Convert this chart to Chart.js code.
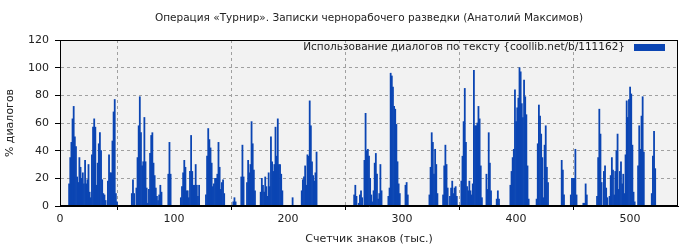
<!DOCTYPE html>
<html><head><meta charset="utf-8">
<script src="https://cdn.jsdelivr.net/npm/chart.js@4/dist/chart.umd.min.js"></script>
<style>html,body{margin:0;padding:0;background:#fff}#wrap{width:700px;height:250px}</style>
</head><body><div id="wrap"><canvas id="c" width="700" height="250"></canvas></div>
<script>
const titleText = "Операция «Турнир». Записки чернорабочего разведки (Анатолий Максимов)";
const seriesLabel = "Использование диалогов по тексту {coollib.net/b/111162}";
const xTitle = "Счетчик знаков (тыс.)";
const yTitle = "% диалогов";
const xTicks = [0, 100, 200, 300, 400, 500];
const yTicks = [0, 20, 40, 60, 80, 100, 120];
const xMax = 542;
const firstCount = 1;
const values = [
0,0,0,0,0,0,0,16,35,46,
63,72,50,43,21,17,35,28,20,24,
16,33,16,19,30,10,6,37,57,63,
57,15,31,45,53,40,19,9,8,4,
0,18,37,24,24,47,68,77,9,3,
0,0,0,0,0,0,0,0,0,0,
0,0,9,19,9,0,13,35,58,79,
53,29,32,64,32,13,2,12,38,51,
53,31,22,13,7,4,8,15,10,0,
0,0,0,0,23,46,23,0,0,0,
0,0,0,0,0,6,14,24,33,28,
11,11,6,25,51,25,15,15,30,15,
7,15,0,0,0,0,0,8,36,56,
48,42,31,14,16,20,20,23,46,28,
12,17,19,9,0,0,0,0,0,0,
0,3,6,3,0,0,0,0,21,44,
21,0,0,17,33,24,30,61,45,26,
11,0,0,0,0,10,20,15,10,21,
14,7,24,14,50,32,25,30,57,36,
63,30,30,23,11,0,0,0,0,0,
0,0,0,6,0,0,0,0,0,0,
0,11,19,21,29,15,37,36,76,58,
32,22,18,24,39,0,0,0,0,0,
0,0,0,0,0,0,0,0,0,0,
0,0,0,0,0,0,0,0,0,0,
0,0,0,0,0,0,0,8,15,7,
0,2,8,11,6,0,33,67,40,41,
36,20,8,3,11,31,38,23,5,9,
30,11,0,0,0,0,0,7,13,96,
94,86,72,70,59,32,16,9,0,0,
0,0,15,17,8,0,0,0,0,0,
0,0,0,0,0,0,0,0,0,0,
0,0,0,8,28,53,46,23,41,30,
9,0,0,0,0,8,29,44,30,13,
0,7,13,18,9,13,14,7,0,0,
0,18,36,61,85,46,14,11,18,11,
8,16,98,58,58,60,72,63,29,6,
0,0,0,23,12,53,31,11,0,0,
0,0,5,11,5,0,0,0,0,0,
0,0,0,0,15,25,35,41,84,61,
71,78,100,97,74,64,91,79,66,29,
5,0,0,0,0,0,0,5,45,73,
65,52,35,6,44,58,28,17,0,0,
0,0,0,0,0,0,0,0,0,33,
26,8,0,0,0,0,0,8,20,20,
20,41,8,0,0,0,0,0,2,2,
16,8,0,0,0,0,0,0,0,0,
7,35,70,52,17,0,25,29,13,6,
0,7,22,35,26,8,25,40,52,12,
25,32,16,23,9,37,76,64,77,86,
81,44,10,3,0,0,29,58,41,65,
79,39,0,0,0,0,0,0,9,36,
54,27
];
const counts = values.map((_, i) => firstCount + i);

const barColor = '#0b45b3';
const font = {family: 'DejaVu Sans', size: 11};

const bgPlugin = {
  id: 'bg',
  beforeDraw(chart) {
    const {ctx, chartArea: a} = chart;
    ctx.save();
    ctx.fillStyle = '#ffffff';
    ctx.fillRect(0, 0, chart.width, chart.height);
    ctx.fillStyle = '#f2f2f2';
    ctx.fillRect(a.left, a.top, a.right - a.left, a.bottom - a.top);
    ctx.restore();
  },
  afterLayout(chart) {
    if (chart.titleBlock) {
      chart.titleBlock.left = chart.chartArea.left;
      chart.titleBlock.right = chart.chartArea.right;
    }
  },
  afterDraw(chart) {
    const {ctx, chartArea: a} = chart;
    const ds = chart.data.datasets[0];
    ctx.save();
    // legend inside plot, top-right, box to the right of the text
    const boxW = 31, boxH = 7;
    const boxRight = a.right - 13;
    const cy = a.top + 7.5;
    ctx.fillStyle = ds.backgroundColor;
    ctx.fillRect(boxRight - boxW, Math.round(cy - boxH / 2), boxW, boxH);
    ctx.fillStyle = '#222';
    ctx.font = '10.5px "DejaVu Sans"';
    ctx.textAlign = 'right';
    ctx.textBaseline = 'middle';
    ctx.fillText(ds.label, boxRight - boxW - 9, cy);
    // frame
    ctx.strokeStyle = '#000';
    ctx.lineWidth = 1;
    ctx.strokeRect(Math.round(a.left) + 0.5, Math.round(a.top) + 0.5,
      Math.round(a.right - a.left) - 1, Math.round(a.bottom - a.top) - 1);
    ctx.restore();
  }
};

new Chart(document.getElementById('c'), {
  type: 'bar',
  data: {
    datasets: [{
      label: seriesLabel,
      data: counts.map((c, i) => ({x: c, y: values[i]})),
      backgroundColor: barColor,
      borderWidth: 0,
      barPercentage: 1.0,
      categoryPercentage: 1.0
    }]
  },
  options: {
    responsive: false,
    devicePixelRatio: 1,
    animation: false,
    layout: {padding: {left: 0, right: 22, top: 0, bottom: 0}},
    plugins: {
      title: {
        display: true, text: titleText, color: '#222',
        font: {family: 'DejaVu Sans', size: 10.5, weight: 'normal'},
        padding: {top: 11.5, bottom: 15.9}
      },
      legend: {display: false},
      tooltip: {enabled: false}
    },
    scales: {
      x: {
        type: 'linear', min: 0, max: xMax, offset: false,
        afterBuildTicks: s => { s.ticks = xTicks.map(v => ({value: v})); },
        afterFit: s => { s.height = 44; },
        ticks: {color: '#222', font: font, padding: 3, maxRotation: 0, autoSkip: false},
        grid: {color: '#a0a0a0', tickColor: '#000', tickLength: 4, tickBorderDash: [], drawOnChartArea: true},
        border: {display: true, color: '#000', dash: [3, 3]},
        title: {display: true, text: xTitle, color: '#222', font: font, padding: {top: 4, bottom: 4}}
      },
      y: {
        min: 0, max: 120,
        afterBuildTicks: s => { s.ticks = yTicks.map(v => ({value: v})); },
        afterFit: s => { s.width = 60; },
        ticks: {color: '#222', font: font, padding: 6},
        grid: {color: '#a0a0a0', tickColor: '#000', tickLength: 5, tickBorderDash: []},
        border: {display: true, color: '#000', dash: [3, 3]},
        title: {display: true, text: yTitle, color: '#222', font: font, padding: {top: 4, bottom: 4}}
      }
    }
  },
  plugins: [bgPlugin]
});
</script>
</body></html>
